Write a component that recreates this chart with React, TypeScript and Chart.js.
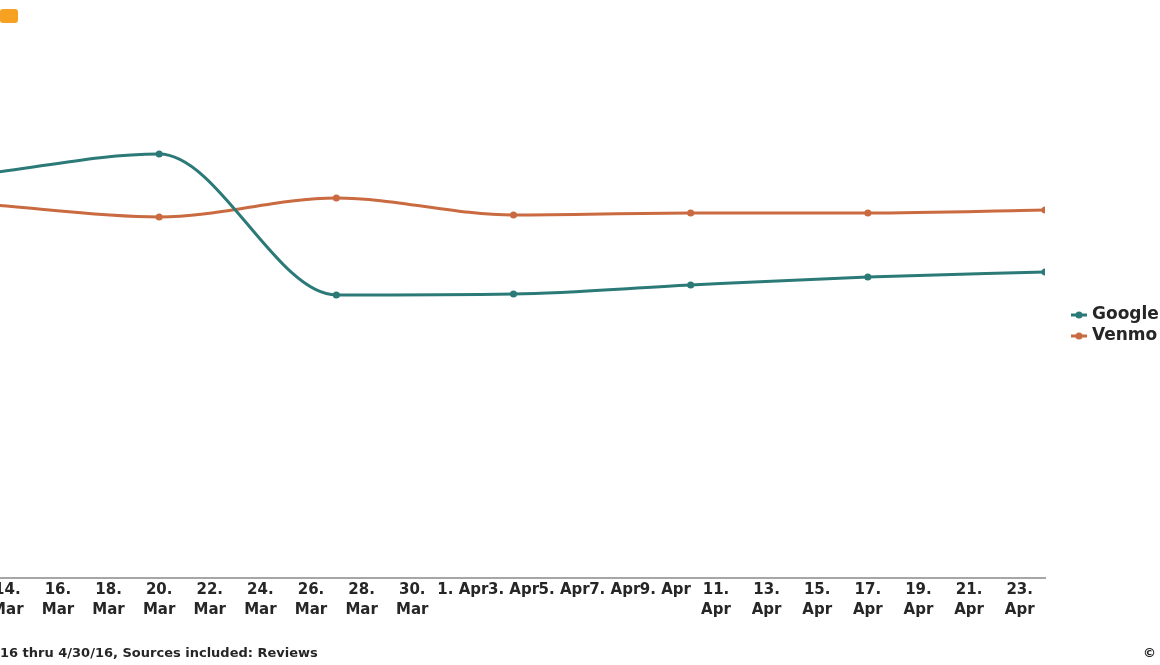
import React, { useEffect, useRef } from "react";
import { Chart, registerables } from "chart.js";

Chart.register(...registerables);

// ---- data ----
const pointDates = ["2016-03-13", "2016-03-20", "2016-03-27", "2016-04-03", "2016-04-10", "2016-04-17", "2016-04-24"];
const googleValues = [80.8, 84.8, 56.6, 56.8, 58.6, 60.2, 61.2];
const venmoValues = [74.8, 72.2, 76.0, 72.6, 73.0, 73.0, 73.6];
const tickDates = [
  "2016-03-14", "2016-03-16", "2016-03-18", "2016-03-20", "2016-03-22", "2016-03-24", "2016-03-26",
  "2016-03-28", "2016-03-30", "2016-04-01", "2016-04-03", "2016-04-05", "2016-04-07", "2016-04-09",
  "2016-04-11", "2016-04-13", "2016-04-15", "2016-04-17", "2016-04-19", "2016-04-21", "2016-04-23",
];
const tickLabels = [
  "14. Mar", "16. Mar", "18. Mar", "20. Mar", "22. Mar", "24. Mar", "26. Mar",
  "28. Mar", "30. Mar", "1. Apr", "3. Apr", "5. Apr", "7. Apr", "9. Apr",
  "11. Apr", "13. Apr", "15. Apr", "17. Apr", "19. Apr", "21. Apr", "23. Apr",
];
const seriesNames = ["Google", "Venmo"];
const seriesColors = ["#2b7a77", "#c96a40"];
const footerText = "16 thru 4/30/16, Sources included: Reviews";

const toDay = (s: string) => {
  const [y, m, d] = s.split("-").map(Number);
  return Date.UTC(y, m - 1, d) / 86400000;
};

const OFFSET = 100;

export default function App() {
  const ref = useRef<HTMLCanvasElement | null>(null);

  useEffect(() => {
    if (!ref.current) return;
    const xs = pointDates.map(toDay);
    const tickXs = tickDates.map(toDay);
    const labelMap = new Map<number, string>();
    tickXs.forEach((v, i) => labelMap.set(v, tickLabels[i]));

    const legendPlugin = {
      id: "customLegend",
      afterDraw(chart: any) {
        const ctx = chart.ctx;
        ctx.save();
        const ys = [315, 336];
        seriesNames.forEach((name, i) => {
          const y = ys[i];
          const x0 = 1071 + OFFSET;
          ctx.strokeStyle = seriesColors[i];
          ctx.lineWidth = 3;
          ctx.beginPath();
          ctx.moveTo(x0, y);
          ctx.lineTo(x0 + 16, y);
          ctx.stroke();
          ctx.fillStyle = seriesColors[i];
          ctx.beginPath();
          ctx.arc(x0 + 8, y, 3.5, 0, Math.PI * 2);
          ctx.fill();
          ctx.fillStyle = "#262626";
          ctx.font = "bold 17px 'DejaVu Sans'";
          ctx.textBaseline = "middle";
          ctx.textAlign = "left";
          ctx.fillText(name, x0 + 21, y);
        });
        ctx.restore();
      },
    };

    const chart = new Chart(ref.current, {
      type: "line",
      data: {
        datasets: [googleValues, venmoValues].map((vals, i) => ({
          label: seriesNames[i],
          data: vals.map((v, j) => ({ x: xs[j], y: v })),
          borderColor: seriesColors[i],
          backgroundColor: seriesColors[i],
          borderWidth: 3,
          pointRadius: 3.5,
          pointHoverRadius: 4,
          pointBorderWidth: 0,
          cubicInterpolationMode: "monotone" as const,
          fill: false,
        })),
      },
      options: {
        responsive: false,
        animation: false,
        layout: { padding: { left: 82, right: 115, top: 78, bottom: 0 } },
        plugins: { legend: { display: false }, tooltip: { enabled: false } },
        scales: {
          x: {
            type: "linear",
            min: xs[0],
            max: xs[xs.length - 1],
            grid: { display: false, drawTicks: false },
            border: { display: true, color: "#a6a6a6", width: 2 },
            afterBuildTicks: (scale: any) => {
              scale.ticks = tickXs.map((v) => ({ value: v }));
            },
            afterFit: (scale: any) => {
              scale.height = 87;
            },
            ticks: {
              autoSkip: false,
              maxRotation: 0,
              minRotation: 0,
              padding: 2,
              color: "#262626",
              font: { family: "'DejaVu Sans'", size: 15, weight: "bold", lineHeight: 1.333 },
              callback: (value: any) => {
                const s = labelMap.get(Number(value)) || "";
                const parts = s.split(" ");
                return parts[0].length > 2 ? [parts[0], parts[1]] : s;
              },
            },
          },
          y: { display: false, min: 0, max: 100 },
        },
      },
      plugins: [legendPlugin],
    });
    return () => chart.destroy();
  }, []);

  return (
    <div
      style={{
        position: "fixed",
        left: 0,
        top: 0,
        width: 1160,
        height: 665,
        overflow: "hidden",
        background: "#ffffff",
      }}
    >
      <div
        style={{
          position: "absolute",
          left: 0,
          top: 9,
          width: 18,
          height: 14,
          borderRadius: 3,
          background: "#f6a122",
        }}
      />
      <canvas
        ref={ref}
        width={1160 + OFFSET}
        height={665}
        style={{ position: "absolute", left: -OFFSET, top: 0, width: 1160 + OFFSET, height: 665 }}
      />
      <div
        style={{
          position: "absolute",
          left: 0,
          top: 645,
          font: "bold 13px 'DejaVu Sans'",
          color: "#262626",
          whiteSpace: "nowrap",
        }}
      >
        {footerText}
      </div>
      <div
        style={{
          position: "absolute",
          left: 1143,
          top: 645,
          font: "bold 13px 'DejaVu Sans'",
          color: "#262626",
          whiteSpace: "nowrap",
        }}
      >
        ©
      </div>
    </div>
  );
}
